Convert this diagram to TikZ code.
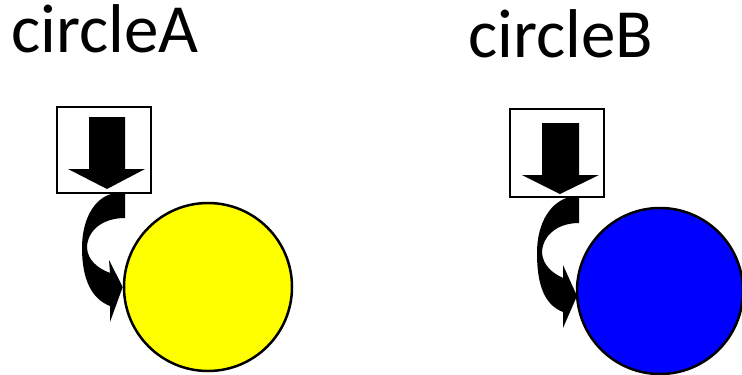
\documentclass[tikz,border=0pt]{standalone}
\usepackage{fontspec}
\setmainfont{Carlito}
\definecolor{yel}{RGB}{255,255,0}
\definecolor{blu}{RGB}{0,0,255}
\begin{document}
\begin{tikzpicture}[x=1pt,y=-1pt,
  lbl/.style={font=\fontsize{69}{69}\selectfont, inner sep=0pt, anchor=base west},
  framebox/.style={draw=black, line width=1.8pt, fill=white, minimum width=94pt, minimum height=86pt, inner sep=0pt},
  ball/.style={circle, draw=black, line width=2.5pt, minimum size=168pt, inner sep=0pt},
  blackfill/.style={fill=black, draw=none}]
\useasboundingbox (0,0) rectangle (742,375);
\clip (0,0) rectangle (742,375);

\node[lbl] (labA) at (11,52) {circleA};
\node[lbl] (labB) at (468,57) {circleB};

% group A
\node[framebox] (boxA) at (104,150) {};
\node[ball, fill=yel] (circA) at (208,287) {};
\fill[blackfill] (89,117) -- (125,117) -- (125,169) -- (145,169) -- (107,189) -- (68,169) -- (89,169) -- cycle;
\coordinate (tipA) at (circA.west);
\fill[blackfill] (125,193) -- (125,218) .. controls (102,218) and (87,231) .. (87,248)
  .. controls (88,260) and (97,268) .. (110,273) -- (109,260) -- (tipA) -- (110,322) -- (110,306)
  .. controls (92,299) and (82,280) .. (82,248) .. controls (82,216) and (97,195) .. (116,193) -- cycle;

% group B
\begin{scope}[shift={(453,4)}]
\node[framebox, minimum height=88pt] (boxB) at (104,149) {};
\fill[blackfill] (89,119) -- (126,119) -- (126,171) -- (146,171) -- (107,190) -- (69,171) -- (89,171) -- cycle;
\end{scope}
\node[ball, fill=blu, minimum size=166pt] (circB) at (660,291) {};
\begin{scope}[shift={(455,3)}]
\coordinate (tipB) at (122,293);
\fill[blackfill] (124,194) -- (124,220) .. controls (101,220) and (87,234) .. (87,250)
  .. controls (88,262) and (97,270) .. (108,275) -- (108,262) -- (tipB) -- (108,325) -- (108,309)
  .. controls (90,302) and (82,283) .. (82,250) .. controls (82,218) and (97,198) .. (115,194) -- cycle;
\end{scope}
\end{tikzpicture}
\end{document}
